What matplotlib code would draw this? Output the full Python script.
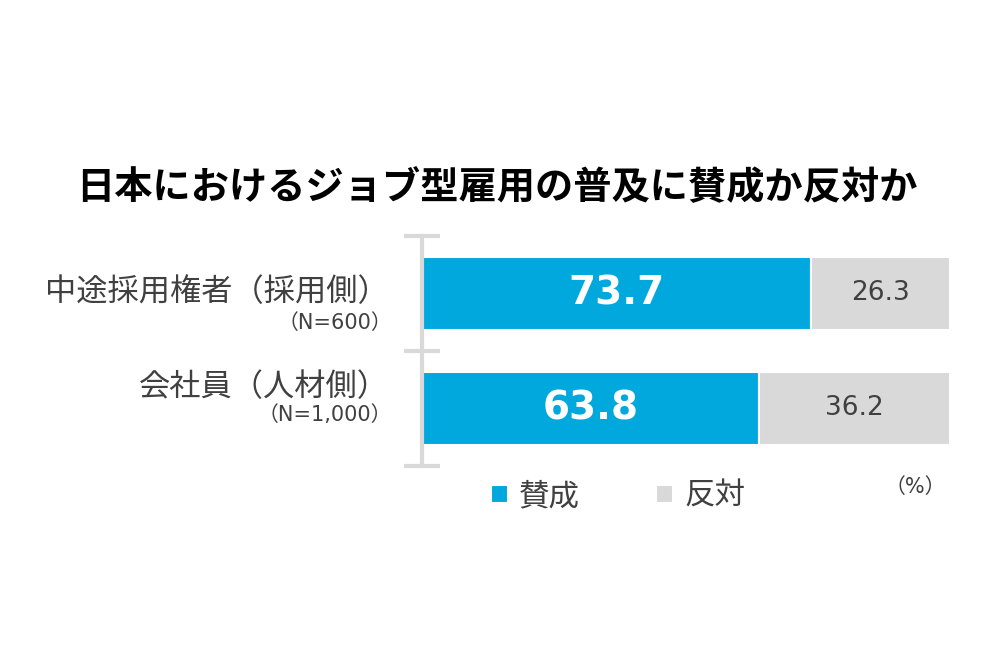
import matplotlib
matplotlib.use('Agg')
import matplotlib.pyplot as plt
from matplotlib.transforms import blended_transform_factory

plt.rcParams['font.family'] = ['Noto Sans CJK JP', 'DejaVu Sans']
num_font = ['DejaVu Sans', 'Noto Sans CJK JP']  # 数字は幅広のフォントで

# データ（下から上の順）
categories = ['会社員（人材側）', '中途採用権者（採用側）']
sample_sizes = ['（N=1,000）', '（N=600）']
agree = [63.8, 73.7]
disagree = [36.2, 26.3]
series_names = ['賛成', '反対']
title = '日本におけるジョブ型雇用の普及に賛成か反対か'

blue = '#00a8de'
gray = '#d9d9d9'
text_col = '#404040'

fig = plt.figure(figsize=(10, 6.7), dpi=100)
ax = fig.add_axes([0.422, 0.3045, 0.528, 0.3433])

y = list(range(len(categories)))
b1 = ax.barh(y, agree, height=0.643, color=blue, edgecolor='white', linewidth=1.5,
             label=series_names[0])
b2 = ax.barh(y, disagree, left=agree, height=0.643, color=gray, edgecolor='white',
             linewidth=1.5, label=series_names[1])

# 値ラベル
for i in y:
    ax.text(agree[i] / 2, i, f'{agree[i]:.1f}', ha='center', va='center',
            color='white', fontsize=28, fontweight='bold', family=num_font)
    ax.text(agree[i] + disagree[i] / 2, i, f'{disagree[i]:.1f}', ha='center',
            va='center', color=text_col, fontsize=19, family=num_font)

ax.set_xlim(0, 100)
ax.set_ylim(-0.5, 1.5)

# 軸まわり
for s in ['top', 'right', 'bottom']:
    ax.spines[s].set_visible(False)
ax.spines['left'].set_color(gray)
ax.spines['left'].set_linewidth(3)
ax.set_xticks([])
ax.set_yticks([-0.5, 0.5, 1.5])
ax.set_yticklabels([])
ax.tick_params(axis='y', length=26, width=3, color=gray, direction='inout')

# カテゴリラベル
trans = blended_transform_factory(ax.transAxes, ax.transData)
main_off = [0.19, 0.01]
n_off = [-0.06, -0.26]
for i in y:
    ax.text(-0.0625, i + main_off[i], categories[i], transform=trans, ha='right',
            va='center', fontsize=22.5, color=text_col)
    ax.text(-0.056, i + n_off[i], sample_sizes[i], transform=trans, ha='right',
            va='center', fontsize=15, color=text_col, family=num_font)

fig.text(0.497, 0.72, title, ha='center', va='center', fontsize=27.5,
         fontweight='bold', color='black')

leg = fig.legend(handles=[b1, b2], loc='center', bbox_to_anchor=(0.618, 0.259),
                 ncol=2, frameon=False, fontsize=22, handlelength=0.55,
                 handleheight=0.55, handletextpad=0.36, columnspacing=2.5,
                 labelcolor=text_col)

fig.text(0.915, 0.273, '（%）', ha='center', va='center', fontsize=15,
         color=text_col, family=num_font)

fig.savefig('out.png', dpi=100, facecolor='white')
